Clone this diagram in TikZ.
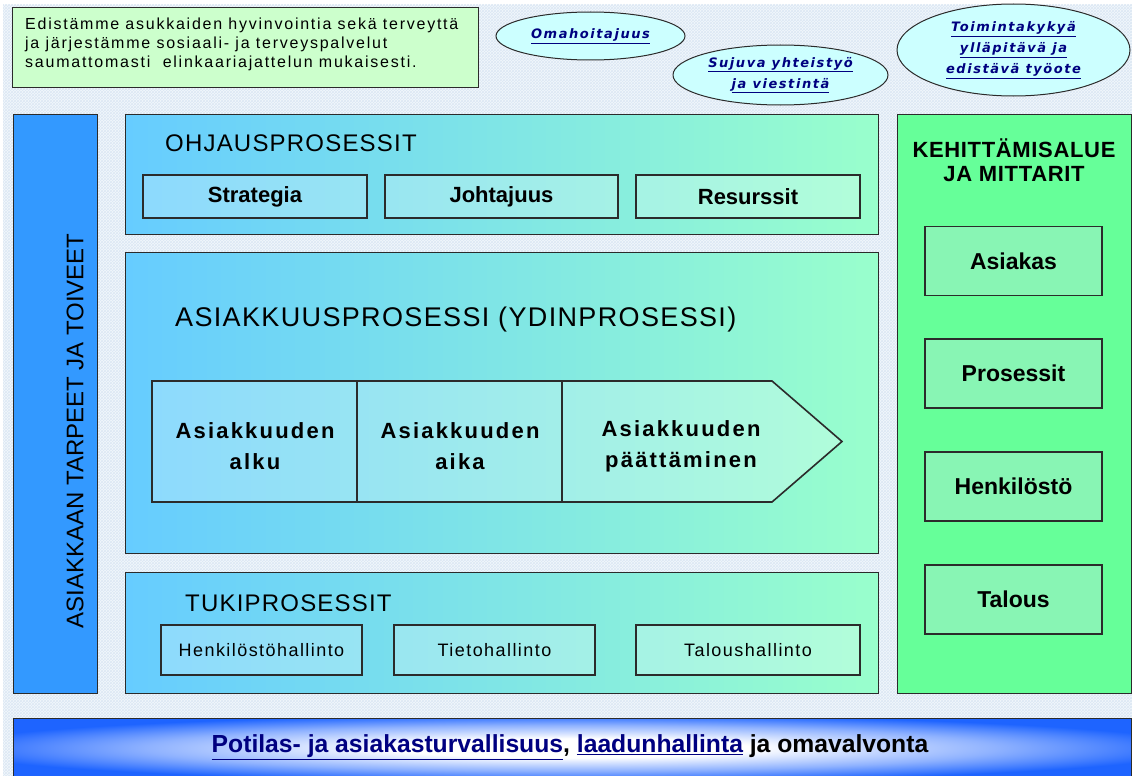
\documentclass[tikz,border=0pt]{standalone}
\usepackage{fontspec}
\setmainfont{Liberation Sans}
\newfontfamily\ellfont[LetterSpace=12]{DejaVu Sans}
\newfontfamily\missionfont[LetterSpace=11]{Liberation Sans}
\newfontfamily\titlefont[LetterSpace=5]{Liberation Sans}
\newfontfamily\tukifont[LetterSpace=8]{Liberation Sans}
\newfontfamily\chevfont[LetterSpace=10]{Liberation Sans Bold}
\newfontfamily\devfont[LetterSpace=3]{Liberation Sans Bold}
\usetikzlibrary{shapes.geometric,patterns}
\definecolor{bgfill}{HTML}{F2F7FC}
\definecolor{bgline}{HTML}{DCE8F4}
\definecolor{edge}{HTML}{2B2B2B}
\definecolor{mission}{HTML}{CCFFCC}
\definecolor{ellfill}{HTML}{CCFFFF}
\definecolor{navy}{HTML}{000080}
\definecolor{barblue}{HTML}{3399FF}
\definecolor{gl}{HTML}{66CCFF}
\definecolor{gr}{HTML}{99FFCC}
\definecolor{devgreen}{HTML}{66FF99}
\definecolor{devbox}{HTML}{88F5B4}
\definecolor{bottomblue}{HTML}{1E64FF}
\definecolor{midblue}{HTML}{8FB2FF}
\pgfdeclareradialshading{glow}{\pgfpoint{0bp}{0bp}}{color(0bp)=(white); color(8bp)=(white); color(19bp)=(midblue); color(28bp)=(bottomblue); color(50bp)=(bottomblue)}
\begin{document}
\begin{tikzpicture}[x=1pt,y=-1pt,
  panel/.style={draw=edge, line width=1pt, left color=gl, right color=gr, shading angle=90, inner sep=0pt},
  subbox/.style={draw=edge, line width=1.6pt, fill=white, fill opacity=0.25, text opacity=1, inner sep=0pt, minimum height=43, font=\fontsize{22}{26}\selectfont\bfseries},
  tukibox/.style={draw=edge, line width=1.6pt, fill=white, fill opacity=0.25, text opacity=1, inner sep=0pt, minimum width=201, minimum height=50, font=\tukifont\fontsize{18}{20}\selectfont},
  devsub/.style={draw=edge, line width=1.6pt, fill=devbox, inner sep=0pt, minimum width=177, minimum height=69, font=\fontsize{23}{26}\selectfont\bfseries},
  oval/.style={ellipse, draw=edge, line width=1pt, fill=ellfill, inner sep=0pt, align=center, text=navy, font=\ellfont\bfseries\itshape\fontsize{13}{21}\selectfont},
  ptitle/.style={anchor=west, inner sep=0pt, font=\titlefont\fontsize{24}{28}\selectfont},
  chevtext/.style={align=center, inner sep=0pt, font=\chevfont\fontsize{22}{31}\selectfont}
]
\useasboundingbox (0,0) rectangle (1132,776);
\fill[white] (0,0) rectangle (1132,776);
\fill[bgfill] (3,5) rectangle (1132,776);
\fill[pattern=crosshatch, pattern color=bgline] (3,5) rectangle (1132,776);

% mission
\node[draw=edge, line width=1pt, fill=mission, minimum width=466, minimum height=79, inner sep=0pt] (mission) at (245,47.5) {};
\node[anchor=north west, align=left, inner sep=0pt, font=\missionfont\fontsize{16}{19}\selectfont] (missiontext) at (25,18)
 {Edistämme asukkaiden hyvinvointia sekä terveyttä\\ja järjestämme sosiaali- ja terveyspalvelut\\saumattomasti\ \ elinkaariajattelun mukaisesti.};

% ovals
\node[oval, minimum width=189, minimum height=48] (oma) at (590.5,36) {\underline{Omahoitajuus}};
\node[oval, minimum width=215, minimum height=60] (suj) at (780.5,75) {\underline{Sujuva yhteistyö}\\\underline{ja viestintä}};
\node[oval, minimum width=233, minimum height=92] (toim) at (1013.5,50) {\underline{Toimintakykyä}\\\underline{ylläpitävä ja}\\\underline{edistävä työote}};

% left bar
\node[draw=edge, line width=1pt, fill=barblue, minimum width=84, minimum height=579, inner sep=0pt] (needs) at (55,403.5) {};
\node[rotate=90, inner sep=0pt, font=\fontsize{24}{28}\selectfont] (needstext) at (75,431) {ASIAKKAAN TARPEET JA TOIVEET};

% ohjausprosessit
\node[panel, minimum width=753, minimum height=120] (ohj) at (501.5,174) {};
\node[ptitle] (ohjt) at (165,143) {OHJAUSPROSESSIT};
\node[subbox, minimum width=224] (strat) at (255,196.5) {Strategia};
\node[subbox, minimum width=233] (joht) at (501.5,196.5) {Johtajuus};
\node[subbox, minimum width=224] (res) at (748,196.5) {Resurssit};

% asiakkuusprosessi
\node[panel, minimum width=753, minimum height=301] (asi) at (501.5,402.5) {};
\node[ptitle, font=\titlefont\fontsize{27}{30}\selectfont] (asit) at (175,320) {ASIAKKUUSPROSESSI (YDINPROSESSI)};
\draw[draw=edge, line width=1.6pt, fill=white, fill opacity=0.25] (152,381) -- (772,381) -- (842,441.5) -- (772,502) -- (152,502) -- cycle;
\draw[edge, line width=1.6pt] (357,381) -- (357,502) (562,381) -- (562,502);
\node[chevtext] (alku) at (255,446) {Asiakkuuden\\alku};
\node[chevtext] (aika) at (460,446) {Asiakkuuden\\aika};
\node[chevtext] (paat) at (681,446) {Asiakkuuden\\päättäminen};

% tukiprosessit
\node[panel, minimum width=753, minimum height=121] (tuki) at (501.5,632.5) {};
\node[ptitle] (tukit) at (185,603) {TUKIPROSESSIT};
\node[tukibox] (henk) at (261.5,650) {Henkilöstöhallinto};
\node[tukibox] (tieto) at (494.5,650) {Tietohallinto};
\node[tukibox, minimum width=224] (talh) at (748,650) {Taloushallinto};

% kehittamisalue
\node[draw=edge, line width=1pt, fill=devgreen, minimum width=234, minimum height=579, inner sep=0pt] (dev) at (1014,403.5) {};
\node[align=center, inner sep=0pt, font=\devfont\fontsize{22}{24}\selectfont] (devt) at (1014,160) {KEHITTÄMISALUE\\JA MITTARIT};
\node[devsub] (asiakas) at (1013.5,261) {Asiakas};
\node[devsub] (prosessit) at (1013.5,373.5) {Prosessit};
\node[devsub] (henkilosto) at (1013.5,486.5) {Henkilöstö};
\node[devsub] (talous) at (1013.5,599.5) {Talous};

% bottom bar
\node[draw=edge, line width=1pt, shading=glow, minimum width=1118, minimum height=60, inner sep=0pt] (quality) at (572,748) {};
\node[inner sep=0pt, font=\fontsize{24.7}{28}\selectfont\bfseries] (qualityt) at (570,747)
 {\textcolor{navy}{\underline{Potilas- ja asiakasturvallisuus}}, \textcolor{navy}{\underline{laadunhallinta}} ja omavalvonta};
\end{tikzpicture}
\end{document}
